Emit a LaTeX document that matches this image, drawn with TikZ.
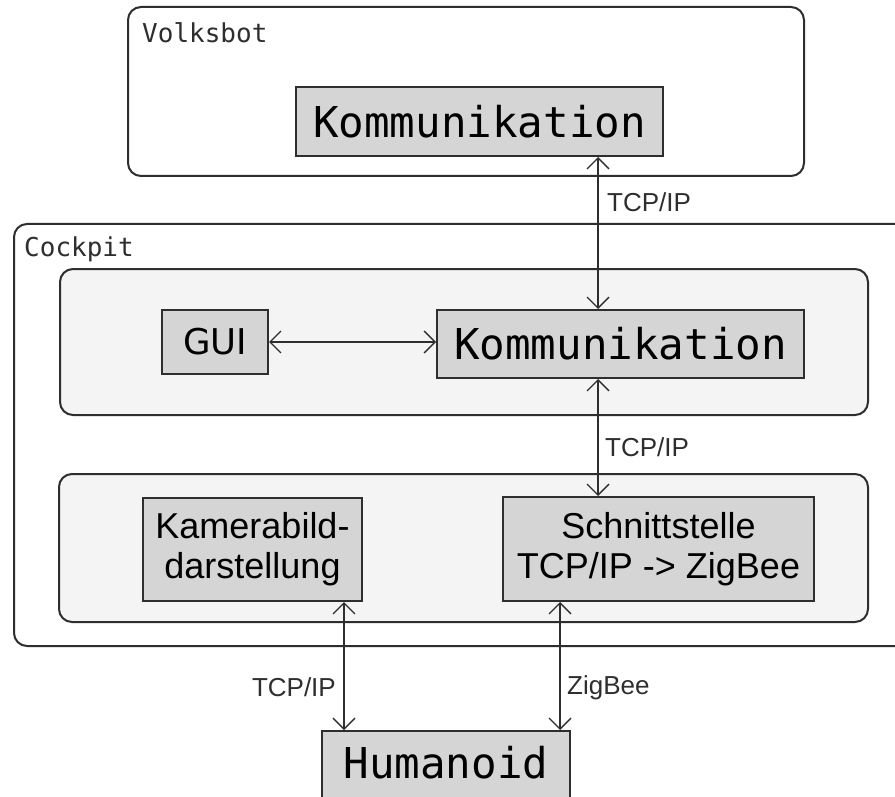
\documentclass[tikz,border=0pt]{standalone}
\usepackage{fontspec}
\setmainfont{Liberation Sans}
\newfontfamily\monofnt{DejaVu Sans Mono}
\newfontfamily\guifnt{DejaVu Sans}
\usetikzlibrary{arrows.meta}
\definecolor{linegray}{HTML}{2E2E2E}
\definecolor{boxgray}{HTML}{D5D5D5}
\definecolor{panelgray}{HTML}{F4F4F4}

\begin{document}
\begin{tikzpicture}[x=1pt,y=-1pt,
  frame/.style={draw=linegray, line width=2pt, rounded corners=13pt, fill=white, inner sep=0pt},
  panel/.style={frame, fill=panelgray},
  unit/.style={draw=linegray, line width=2pt, fill=boxgray, inner sep=0pt, align=center},
  conn/.style={draw=linegray, line width=1.4pt,
    {Straight Barb[length=11pt,width=22pt]}-{Straight Barb[length=11pt,width=22pt]}},
  lbl/.style={font=\fontsize{26}{30}\selectfont, text=linegray, inner sep=0pt},
  title/.style={font=\monofnt\fontsize{26}{30}\selectfont, text=linegray, inner sep=0pt},
  bigmono/.style={font=\monofnt\fontsize{42.5}{50}\selectfont},
  bigsans/.style={font=\fontsize{36}{40}\selectfont},
  guisans/.style={font=\guifnt\fontsize{35.5}{40}\selectfont}
]
\clip (0,0) rectangle (895,797);
\fill[white] (0,0) rectangle (895,797);

% Volksbot frame
\node[frame, minimum width=676pt, minimum height=169pt] (vb) at (466,91.5) {};
\node[title, anchor=base west] (vbt) at (142,43) {Volksbot};
\node[unit, bigmono, minimum width=367pt, minimum height=69pt] (kom1) at (479.5,121.5) {Kommunikation};

% Cockpit frame (runs past the right edge)
\node[frame, minimum width=896pt, minimum height=422pt] (cp) at (462,435) {};
\node[title, anchor=base west] (cpt) at (24,256) {Cockpit};

% upper panel
\node[panel, minimum width=808pt, minimum height=146pt] (p1) at (464,342) {};
\node[unit, guisans, minimum width=106pt, minimum height=64pt] (gui) at (215,342) {GUI};
\node[unit, bigmono, minimum width=367pt, minimum height=68pt] (kom2) at (620.5,344) {Kommunikation};

% lower panel
\node[panel, minimum width=809pt, minimum height=148pt] (p2) at (463.5,548) {};
\node[unit, bigsans, minimum width=219pt, minimum height=103pt] (kam) at (252.5,549.5) {Kamerabild-\\darstellung};
\node[unit, bigsans, minimum width=311pt, minimum height=104pt] (sch) at (658.5,549) {Schnittstelle\\TCP/IP -> ZigBee};

% robot
\node[unit, bigmono, minimum width=248pt, minimum height=98pt, text depth=0pt, text height=0pt] (hum) at (446,780) {};
\node[bigmono, anchor=base] (humt) at (446,778) {Humanoid};

% connector columns
\coordinate (xa) at (598,0);
\coordinate (xk) at (344,0);
\coordinate (xs) at (560,0);

\draw[conn] (kom1.south -| xa) -- (kom2.north -| xa);
\draw[conn] (gui.east) -- (gui.east -| kom2.west);
\draw[conn] (kom2.south -| xa) -- (sch.north -| xa);
\draw[conn] (kam.south -| xk) -- (hum.north -| xk);
\draw[conn] (sch.south -| xs) -- (hum.north -| xs);

% link labels
\node[lbl, anchor=west] (l1) at (607,202) {TCP/IP};
\node[lbl, anchor=west] (l2) at (605,447) {TCP/IP};
\node[lbl, anchor=east] (l3) at (336,687) {TCP/IP};
\node[lbl, anchor=west] (l4) at (567,688) {ZigBee};
\end{tikzpicture}
\end{document}
